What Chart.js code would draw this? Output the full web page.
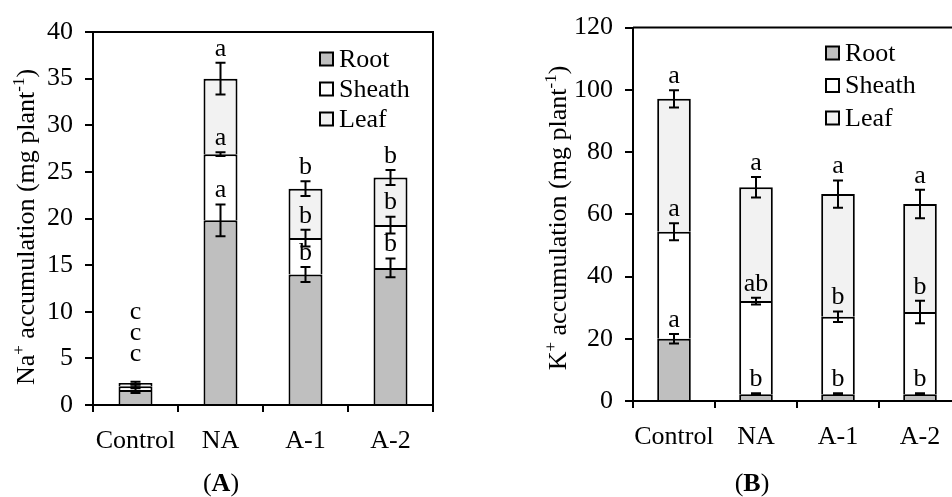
<!DOCTYPE html>
<html lang="en">
<head>
<meta charset="UTF-8">
<title>Na+ and K+ accumulation</title>
<script src="https://cdn.jsdelivr.net/npm/chart.js@4.4.0/dist/chart.umd.min.js"></script>
<style>
  html, body { margin: 0; padding: 0; background: #fff; overflow: hidden; }
  #wrap { position: relative; width: 952px; height: 497px; overflow: hidden; }
  #chartA { position: absolute; left: 0; top: 0; }
  #chartB { position: absolute; left: 476px; top: 0; }
</style>
</head>
<body>
<div id="wrap">
  <canvas id="chartA" width="476" height="497"></canvas>
  <canvas id="chartB" width="500" height="497"></canvas>
</div>
<script>
const categories = ['Control', 'NA', 'A-1', 'A-2'];
const parts = ['Root', 'Sheath', 'Leaf'];

// (A) Na+ accumulation, mg plant-1
const naRoot = [1.6, 19.8, 14.0, 14.7];
const naSheath = [0.4, 7.1, 3.9, 4.6];
const naLeaf = [0.35, 8.1, 5.3, 5.1];
const naRootErr = [0.3, 1.7, 0.8, 1.0];
const naSheathErr = [0.2, 0.2, 0.9, 0.9];
const naLeafErr = [0.15, 1.7, 0.8, 0.8];
const naRootLetters = ['c', 'a', 'b', 'b'];
const naSheathLetters = ['c', 'a', 'b', 'b'];
const naLeafLetters = ['c', 'a', 'b', 'b'];

// (B) K+ accumulation, mg plant-1
const kRoot = [20.0, 2.2, 2.2, 2.2];
const kSheath = [34.4, 29.9, 24.9, 26.4];
const kLeaf = [42.7, 36.6, 39.4, 34.7];
const kRootErr = [1.5, 0.3, 0.3, 0.3];
const kSheathErr = [2.7, 1.1, 1.7, 3.6];
const kLeafErr = [2.8, 3.3, 4.4, 4.6];
const kRootLetters = ['a', 'b', 'b', 'b'];
const kSheathLetters = ['a', 'ab', 'b', 'b'];
const kLeafLetters = ['a', 'a', 'a', 'a'];

const colors = ['#bfbfbf', '#ffffff', '#f2f2f2'];
const FONT = "'Liberation Serif', 'Times New Roman', serif";

// error bars, letters, legend, frame and the rotated axis title
const extras = {
    id: 'extras',
    afterDatasetsDraw(chart, args, opts) {
        const ctx = chart.ctx;
        const ys = chart.scales.y;
        const area = chart.chartArea;
        ctx.save();

        // frame (top + right)
        ctx.strokeStyle = '#000';
        ctx.lineWidth = 2;
        ctx.beginPath();
        ctx.moveTo(area.left, area.top);
        ctx.lineTo(area.right, area.top);
        ctx.lineTo(area.right, area.bottom);
        ctx.stroke();

        const n = chart.data.labels.length;
        const cum = new Array(n).fill(0);
        chart.data.datasets.forEach((ds, i) => {
            const meta = chart.getDatasetMeta(i);
            ds.data.forEach((v, j) => {
                cum[j] += v;
                const x = meta.data[j].x;
                const e = opts.errors[i][j];
                const yT = ys.getPixelForValue(cum[j] + e);
                const yB = ys.getPixelForValue(cum[j] - e);
                ctx.beginPath();
                ctx.moveTo(x, yT); ctx.lineTo(x, yB);
                ctx.moveTo(x - 5, yT); ctx.lineTo(x + 5, yT);
                ctx.moveTo(x - 5, yB); ctx.lineTo(x + 5, yB);
                ctx.stroke();

                let ly = yT - 14;
                if (opts.letterAt && opts.letterAt[j]) ly = ys.getPixelForValue(opts.letterAt[j][i]);
                ctx.fillStyle = '#000';
                ctx.font = '26px ' + FONT;
                ctx.textAlign = 'center';
                ctx.textBaseline = 'middle';
                ctx.fillText(opts.letters[i][j], x, ly);
            });
        });

        // legend
        const lg = opts.legend;
        chart.data.datasets.forEach((ds, i) => {
            const cy = lg.y + i * lg.dy;
            ctx.fillStyle = ds.backgroundColor;
            ctx.fillRect(lg.x, cy - 6.5, 13, 13);
            ctx.strokeRect(lg.x, cy - 6.5, 13, 13);
            ctx.fillStyle = '#000';
            ctx.font = '26px ' + FONT;
            ctx.textAlign = 'left';
            ctx.textBaseline = 'middle';
            ctx.fillText(ds.label, lg.x + 19, cy + 1);
        });

        // rotated y title with superscripts
        const t = opts.yTitle;
        ctx.translate(t.x, t.cy);
        ctx.rotate(-Math.PI / 2);
        ctx.textBaseline = 'alphabetic';
        ctx.textAlign = 'left';
        let w = 0;
        t.parts.forEach(p => {
            ctx.font = (p.sup ? '17px ' : '26px ') + FONT;
            w += ctx.measureText(p.text).width;
        });
        let px = -w / 2;
        t.parts.forEach(p => {
            ctx.font = (p.sup ? '17px ' : '26px ') + FONT;
            ctx.fillText(p.text, px, p.sup ? -1 : 9);
            px += ctx.measureText(p.text).width;
        });
        ctx.setTransform(1, 0, 0, 1, 0, 0);

        // panel label (A) / (B)
        const pl = opts.panel;
        const segs = [['(', '26px '], [pl.letter, 'bold 26px '], [')', '26px ']];
        let tw = 0;
        segs.forEach(s => { ctx.font = s[1] + FONT; tw += ctx.measureText(s[0]).width; });
        let sx = pl.x - tw / 2;
        ctx.textBaseline = 'middle';
        segs.forEach(s => {
            ctx.font = s[1] + FONT;
            ctx.fillText(s[0], sx, pl.y);
            sx += ctx.measureText(s[0]).width;
        });
        ctx.restore();
    }
};

function makeChart(id, series, ymax, step, barPct, geom, extraOpts) {
    return new Chart(document.getElementById(id), {
        type: 'bar',
        data: {
            labels: categories,
            datasets: series.map((d, i) => ({
                label: parts[i],
                data: d,
                backgroundColor: colors[i],
                borderColor: '#000',
                borderWidth: 2,
                categoryPercentage: 1,
                barPercentage: barPct
            }))
        },
        options: {
            responsive: false,
            animation: false,
            layout: { padding: { top: geom.top, right: geom.right, left: 0, bottom: 0 } },
            plugins: {
                legend: { display: false },
                tooltip: { enabled: false },
                extras: extraOpts
            },
            scales: {
                x: {
                    stacked: true,
                    afterFit: s => { s.height = geom.xh; },
                    grid: { drawOnChartArea: false, tickLength: 7, color: '#000', lineWidth: 2, offset: true },
                    border: { color: '#000', width: 2 },
                    ticks: {
                        color: '#000', padding: 14, autoSkip: false, maxRotation: 0, minRotation: 0,
                        font: { family: FONT, size: 26 }
                    }
                },
                y: {
                    stacked: true,
                    min: 0,
                    max: ymax,
                    afterFit: s => { s.width = geom.yw; },
                    grid: { drawOnChartArea: false, tickLength: 8, color: '#000', lineWidth: 2 },
                    border: { color: '#000', width: 2 },
                    ticks: { stepSize: step, color: '#000', padding: 12, font: { family: FONT, size: 26 } }
                }
            }
        },
        plugins: [extras]
    });
}

makeChart('chartA', [naRoot, naSheath, naLeaf], 40, 5, 0.4,
    { top: 32, right: 43, xh: 92, yw: 93 },
    {
        errors: [naRootErr, naSheathErr, naLeafErr],
        letters: [naRootLetters, naSheathLetters, naLeafLetters],
        letterAt: { 0: [5.5, 7.7, 10.0] },
        legend: { x: 320, y: 59, dy: 30 },
        yTitle: { x: 25, cy: 227, parts: [
            { text: 'Na' }, { text: '+', sup: true },
            { text: ' accumulation (mg plant' }, { text: '-1', sup: true }, { text: ')' }
        ] },
        panel: { x: 221, y: 484, letter: 'A' }
    });

makeChart('chartB', [kRoot, kSheath, kLeaf], 120, 20, 0.41,
    { top: 24, right: 15, xh: 96, yw: 157 },
    {
        errors: [kRootErr, kSheathErr, kLeafErr],
        letters: [kRootLetters, kSheathLetters, kLeafLetters],
        legend: { x: 350, y: 53, dy: 32.5 },
        yTitle: { x: 81, cy: 218, parts: [
            { text: 'K' }, { text: '+', sup: true },
            { text: ' accumulation (mg plant' }, { text: '-1', sup: true }, { text: ')' }
        ] },
        panel: { x: 276, y: 484, letter: 'B' }
    });
</script>
</body>
</html>
